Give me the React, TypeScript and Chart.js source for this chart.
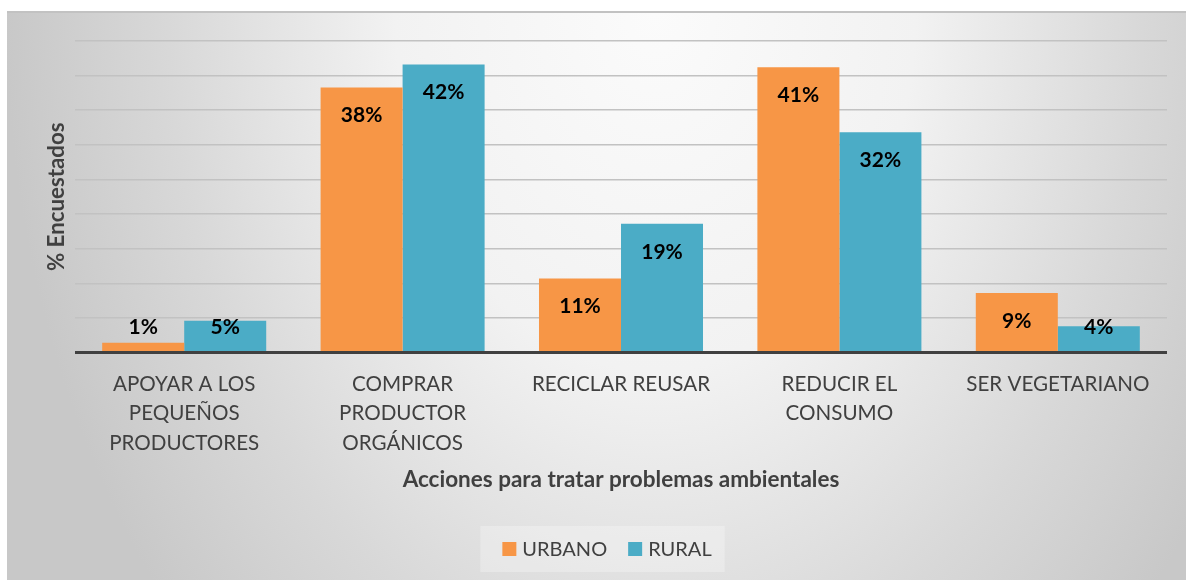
import React, { useEffect, useRef } from "react";
import { Chart, registerables } from "chart.js";

Chart.register(...registerables);

const categories: string[][] = [
  ["APOYAR A LOS", "PEQUEÑOS", "PRODUCTORES"],
  ["COMPRAR", "PRODUCTOR", "ORGÁNICOS"],
  ["RECICLAR REUSAR"],
  ["REDUCIR EL", "CONSUMO"],
  ["SER VEGETARIANO"],
];
const urbano: number[] = [1.4, 38.3, 10.7, 41.2, 8.6];
const rural: number[] = [4.6, 41.6, 18.6, 31.8, 3.8];
const seriesNames: string[] = ["URBANO", "RURAL"];
const seriesColors: string[] = ["#F79646", "#4BACC6"];
const xTitle = "Acciones para tratar problemas ambientales";
const yTitle = "% Encuestados";
const yMax = 45;
const yStep = 5;

const FONT = "Lato";
const TEXT = "#404040";

const dataLabelPlugin = {
  id: "dataLabels",
  afterDatasetsDraw(chart: any) {
    const ctx = chart.ctx;
    ctx.save();
    ctx.font = `bold 21px ${FONT}`;
    ctx.fillStyle = "#000000";
    ctx.textAlign = "center";
    ctx.textBaseline = "middle";
    chart.data.datasets.forEach((ds: any, di: number) => {
      const meta = chart.getDatasetMeta(di);
      meta.data.forEach((el: any, i: number) => {
        const v = ds.data[i];
        const y = Math.min(el.y + 28, el.base - 24);
        ctx.fillText(Math.round(v) + "%", el.x, y);
      });
    });
    ctx.restore();
  },
};

const legendPlugin = {
  id: "customLegend",
  afterDraw(chart: any) {
    const ctx = chart.ctx;
    const items = chart.data.datasets.map((d: any) => ({
      text: d.label,
      color: d.backgroundColor,
    }));
    ctx.save();
    ctx.font = `20px ${FONT}`;
    const sq = 14;
    const gap = 6;
    const itemGap = 21;
    const widths = items.map((it: any) => sq + gap + ctx.measureText(it.text).width);
    const groupW = widths.reduce((a: number, b: number) => a + b, 0) + itemGap * (items.length - 1);
    const padL = 22;
    const padR = 13;
    const boxW = groupW + padL + padR;
    const cx = chart.width / 2 + 6;
    const cy = 538;
    const boxLeft = cx - boxW / 2;
    ctx.fillStyle = "rgba(255,255,255,0.28)";
    ctx.fillRect(boxLeft, cy - 23, boxW, 46);
    let x = boxLeft + padL;
    ctx.textBaseline = "middle";
    ctx.textAlign = "left";
    items.forEach((it: any, i: number) => {
      ctx.fillStyle = it.color;
      ctx.fillRect(x, cy - sq / 2, sq, sq);
      ctx.fillStyle = TEXT;
      ctx.fillText(it.text, x + sq + gap, cy + 1);
      x += widths[i] + itemGap;
    });
    ctx.restore();
  },
};

export default function App() {
  const ref = useRef<HTMLCanvasElement | null>(null);

  useEffect(() => {
    if (!ref.current) return;
    const chart = new Chart(ref.current, {
      type: "bar",
      data: {
        labels: categories,
        datasets: [
          {
            label: seriesNames[0],
            data: urbano,
            backgroundColor: seriesColors[0],
            categoryPercentage: 0.751,
            barPercentage: 1,
          },
          {
            label: seriesNames[1],
            data: rural,
            backgroundColor: seriesColors[1],
            categoryPercentage: 0.751,
            barPercentage: 1,
          },
        ],
      },
      options: {
        animation: false,
        responsive: true,
        maintainAspectRatio: false,
        layout: { padding: { top: 30, right: 19, left: 0, bottom: 60 } },
        plugins: {
          legend: { display: false },
          tooltip: { enabled: false },
        },
        scales: {
          x: {
            grid: { display: false, drawTicks: false },
            border: { display: false },
            ticks: {
              color: TEXT,
              font: { family: FONT, size: 20.6, lineHeight: 1.43 },
              padding: 17,
              maxRotation: 0,
              autoSkip: false,
            },
            title: {
              display: true,
              text: xTitle,
              color: TEXT,
              font: { family: FONT, size: 22.5, weight: "bold" },
              padding: { top: 0, bottom: 27 },
            },
            afterFit: (s: any) => {
              s.height = 167.5;
            },
          },
          y: {
            min: 0,
            max: yMax,
            ticks: { display: false, stepSize: yStep },
            grid: {
              drawTicks: false,
              color: (c: any) => (c.tick && c.tick.value === 0 ? "#404040" : "#c2c2c2"),
              lineWidth: (c: any) => (c.tick && c.tick.value === 0 ? 3 : 1.5),
            },
            border: { display: false },
            title: {
              display: true,
              text: yTitle,
              color: TEXT,
              font: { family: FONT, size: 22.3, weight: "bold" },
              padding: { top: 36.5, bottom: 0 },
            },
            afterFit: (s: any) => {
              s.width = 68;
            },
          },
        },
      },
      plugins: [dataLabelPlugin, legendPlugin],
    } as any);
    return () => chart.destroy();
  }, []);

  return (
    <div
      style={{
        position: "fixed",
        left: 0,
        top: 0,
        width: 1186,
        height: 580,
        background: "#ffffff",
      }}
    >
      <div
        style={{
          position: "absolute",
          left: 7,
          top: 11,
          width: 1179,
          height: 569,
          background:
            "radial-gradient(ellipse 650px 900px at 55% 0%, #fbfbfb 0%, #f2f2f2 40%, #d8d8d8 75%, #c8c8c8 100%)",
          boxShadow: "inset 0 2px 0 #c2c2c2",
        }}
      >
        <canvas ref={ref} />
      </div>
    </div>
  );
}
